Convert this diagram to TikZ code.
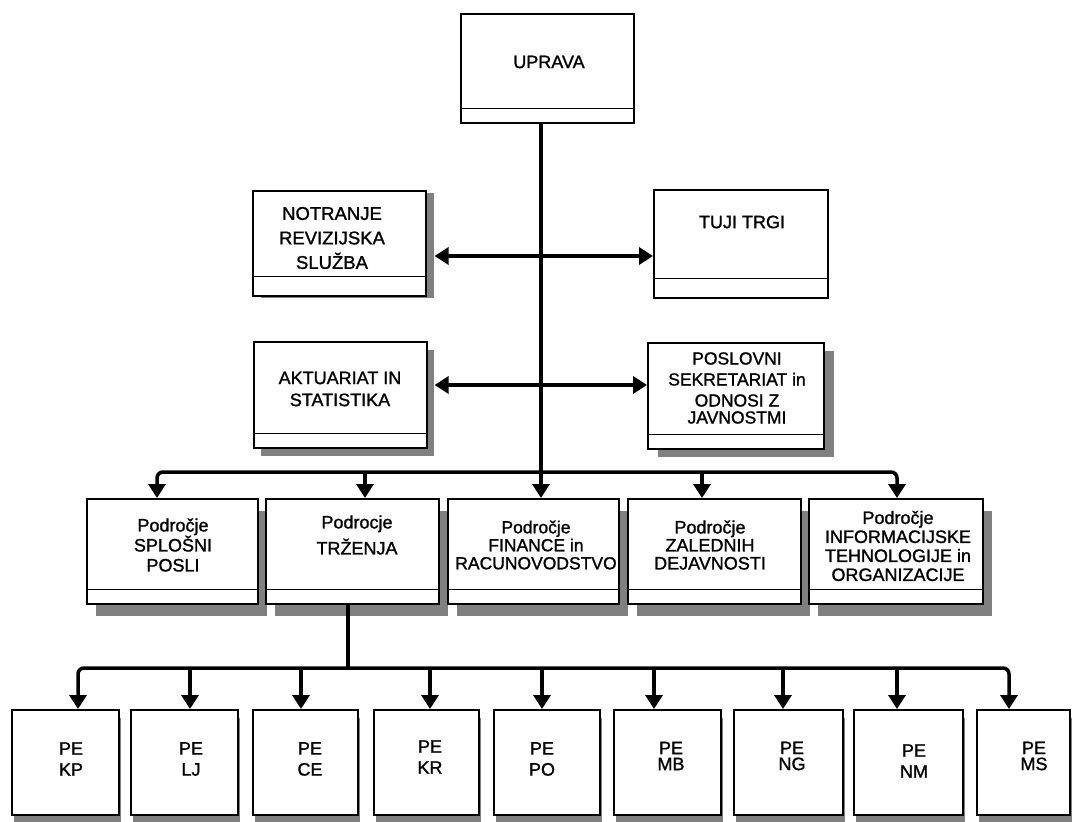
\documentclass[tikz,border=0pt]{standalone}
\usepackage{fontspec}
\setmainfont{Liberation Sans}[FakeBold=1.2]
\usetikzlibrary{arrows.meta,calc,shadows}
\begin{document}
\begin{tikzpicture}[x=1pt,y=-1pt,
  box/.style={draw=black, line width=1.6pt, fill=white, rectangle, inner sep=0pt, anchor=north west},
  sh3/.style={drop shadow={shadow xshift=9pt, shadow yshift=-12pt, opacity=1, fill=black!50}},
  sh4/.style={drop shadow={shadow xshift=2pt, shadow yshift=-8pt, opacity=1, fill=black!50}},
  txt/.style={font=\fontsize{18}{21}\selectfont, align=center, inner sep=0pt},
  conn/.style={line width=3.5pt},
  arr/.style={line width=3.5pt, -{Triangle[length=14pt,width=17pt]}},
  dbl/.style={line width=3.5pt, {Triangle[length=14pt,width=17pt]}-{Triangle[length=14pt,width=17pt]}},
  divider/.style={line width=1.5pt}
]
\fill[white] (0,0) rectangle (1072,822);
\useasboundingbox (0,0) rectangle (1072,822);

% top tiers
\node[box, minimum width=173pt, minimum height=109pt] (upr) at (460,13) {};
\node[box, minimum width=173pt, minimum height=105pt,
      drop shadow={shadow xshift=8pt, shadow yshift=-2pt, opacity=1, fill=black!50}] (nut) at (252,190) {};
\node[box, minimum width=174pt, minimum height=108pt] (tuj) at (653,189) {};
\node[box, minimum width=173pt, minimum height=106pt,
      drop shadow={shadow xshift=7pt, shadow yshift=-8pt, opacity=1, fill=black!50}] (akt) at (253,341) {};
\node[box, minimum width=176pt, minimum height=106pt,
      drop shadow={shadow xshift=10pt, shadow yshift=-8pt, opacity=1, fill=black!50}] (pos) at (647,342) {};

% areas
\node[box, sh3, minimum width=171pt, minimum height=105pt] (splo) at (86,498) {};
\node[box, sh3, minimum width=173pt, minimum height=105pt] (trz) at (265,498) {};
\node[box, sh3, minimum width=171pt, minimum height=105pt] (fin) at (447,498) {};
\node[box, sh3, minimum width=173pt, minimum height=105pt] (zal) at (627,498) {};
\node[box, sh3, minimum width=174pt, minimum height=105pt] (inf) at (808,498) {};

% units
\node[box, sh4, minimum width=107pt, minimum height=105pt] (kp) at (11,709) {};
\node[box, sh4, minimum width=107pt, minimum height=105pt] (lj) at (130,709) {};
\node[box, sh4, minimum width=105pt, minimum height=105pt] (ce) at (252,709) {};
\node[box, sh4, minimum width=105pt, minimum height=105pt] (kr) at (373,709) {};
\node[box, sh4, minimum width=106pt, minimum height=105pt] (po) at (493,709) {};
\node[box, sh4, minimum width=107pt, minimum height=105pt] (mb) at (613,709) {};
\node[box, sh4, minimum width=109pt, minimum height=105pt] (ng) at (733,709) {};
\node[box, sh4, minimum width=109pt, minimum height=105pt] (nm) at (853,709) {};
\node[box, sh4, minimum width=93pt, minimum height=105pt] (ms) at (976,709) {};

% dividers
\foreach \n/\d in {upr/15, nut/20, tuj/20, akt/15, pos/15, splo/15, trz/15, fin/15, zal/15, inf/15}
  \draw[divider] ($(\n.south west)+(0,-\d)$) -- ($(\n.south east)+(0,-\d)$);

% texts
\node[txt] (tupr) at (549,62) {UPRAVA};
\node[txt, font=\fontsize{18.5}{24.5}\selectfont] (tnut) at (332,238) {NOTRANJE\\REVIZIJSKA\\SLUŽBA};
\node[txt] (ttuj) at (742,222) {TUJI TRGI};
\node[txt, font=\fontsize{18}{22}\selectfont] (takt) at (340,389) {AKTUARIAT IN\\STATISTIKA};
\node[txt, font=\fontsize{17.5}{21}\selectfont] (tpos) at (737,388) {POSLOVNI\\SEKRETARIAT in\\ODNOSI Z\\[-4pt]JAVNOSTMI};
\node[txt, font=\fontsize{18}{20}\selectfont] (tsplo) at (173,545) {Področje\\SPLOŠNI\\POSLI};
\node[txt, font=\fontsize{18}{26}\selectfont] (ttrz) at (357,535) {Podrocje\\TRŽENJA};
\node[txt, font=\fontsize{17.5}{18}\selectfont] (tfin) at (536,545) {Področje\\FINANCE in\\RACUNOVODSTVO};
\node[txt, font=\fontsize{18}{18}\selectfont] (tzal) at (710,545) {Področje\\ZALEDNIH\\DEJAVNOSTI};
\node[txt, font=\fontsize{18}{19}\selectfont] (tinf) at (898,546) {Področje\\INFORMACIJSKE\\TEHNOLOGIJE in\\ORGANIZACIJE};

\node[txt] (tkp) at (71,759) {PE\\KP};
\node[txt] (tlj) at (191,759) {PE\\LJ};
\node[txt] (tce) at (310,759) {PE\\CE};
\node[txt] (tkr) at (430,757) {PE\\KR};
\node[txt] (tpo) at (542,759) {PE\\PO};
\node[txt] (tmb) at (671,756) {PE\\[-5pt]MB};
\node[txt] (tng) at (792,756) {PE\\[-5pt]NG};
\node[txt] (tnm) at (914,761) {PE\\NM};
\node[txt] (tms) at (1034,756) {PE\\[-5pt]MS};

% coordinates on the bars
\coordinate (h1) at (541,256);
\coordinate (h2) at (541,385);
\coordinate (j1) at (541,472);
\coordinate (a1) at (157,472);
\coordinate (a2) at (365,472);
\coordinate (a4) at (702,472);
\coordinate (a5) at (897,472);
\coordinate (j2) at (348,668);
\coordinate (b1) at (78,668);
\coordinate (b2) at (190,668);
\coordinate (b3) at (301,668);
\coordinate (b4) at (430,668);
\coordinate (b5) at (542,668);
\coordinate (b6) at (654,668);
\coordinate (b7) at (783,668);
\coordinate (b8) at (897,668);
\coordinate (b9) at (1009,668);

% connectors
\draw[conn] (upr.south -| j1) -- (j1);
\draw[dbl] ($(nut.east |- h1)+(8,0)$) -- (tuj.west |- h1);
\draw[dbl] ($(akt.east |- h2)+(7,0)$) -- (pos.west |- h2);

\draw[arr, rounded corners=6pt] (j1) -| (splo.north -| a1);
\draw[arr] (a2) -- (trz.north -| a2);
\draw[arr] (j1) -- (fin.north -| j1);
\draw[arr] (a4) -- (zal.north -| a4);
\draw[arr, rounded corners=6pt] (j1) -| (inf.north -| a5);

\draw[conn] (trz.south -| j2) -- (j2);
\draw[arr, rounded corners=6pt] (j2) -| (kp.north -| b1);
\draw[arr] (b2) -- (lj.north -| b2);
\draw[arr] (b3) -- (ce.north -| b3);
\draw[arr] (b4) -- (kr.north -| b4);
\draw[arr] (b5) -- (po.north -| b5);
\draw[arr] (b6) -- (mb.north -| b6);
\draw[arr] (b7) -- (ng.north -| b7);
\draw[arr] (b8) -- (nm.north -| b8);
\draw[arr, rounded corners=6pt] (j2) -| (ms.north -| b9);
\end{tikzpicture}
\end{document}
